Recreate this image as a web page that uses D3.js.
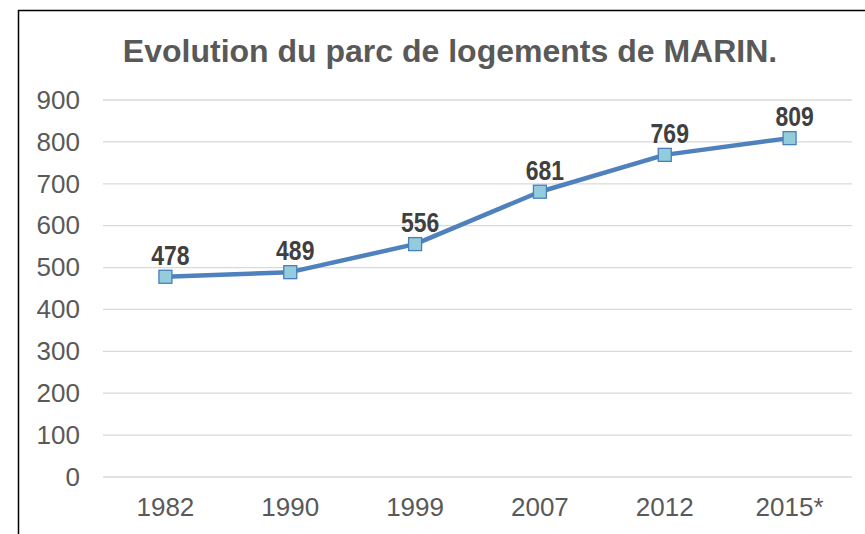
<!DOCTYPE html>
<html>
<head>
<meta charset="utf-8">
<script src="https://cdn.jsdelivr.net/npm/d3@7"></script>
<style>
  body { margin: 0; background: #fff; }
</style>
</head>
<body>
<svg id="SVG_CONTAINER" width="865" height="534"></svg>
<script>
const years = ["1982", "1990", "1999", "2007", "2012", "2015*"];
const logements = [478, 489, 556, 681, 769, 809];
const yTicks = [0, 100, 200, 300, 400, 500, 600, 700, 800, 900];

const width = 865, height = 534;
const MARGIN = { LEFT: 103, RIGHT: 13, TOP: 100, BOTTOM: 57 };
const FONT = "Arial, 'Liberation Sans', sans-serif";

var svg = d3.select("#SVG_CONTAINER");

// outer frame
svg.append("rect")
    .attr("x", 18.5).attr("y", 10.5)
    .attr("width", 900).attr("height", 600)
    .attr("fill", "none").attr("stroke", "#000").attr("stroke-width", 1.5);

// title
svg.append("text")
    .attr("x", 450).attr("y", 62)
    .attr("text-anchor", "middle")
    .attr("font-family", FONT)
    .attr("font-weight", "bold")
    .attr("font-size", "32px")
    .attr("fill", "#595959")
    .text("Evolution du parc de logements de MARIN.");

var xScale = d3.scaleBand()
    .domain(years)
    .range([MARGIN.LEFT, width - MARGIN.RIGHT]);

var yScale = d3.scaleLinear()
    .domain([0, 900])
    .range([height - MARGIN.BOTTOM, MARGIN.TOP]);

// gridlines
svg.append("g")
    .selectAll("line")
    .data(yTicks)
    .enter()
    .append("line")
    .attr("x1", MARGIN.LEFT).attr("x2", width - MARGIN.RIGHT)
    .attr("y1", d => yScale(d)).attr("y2", d => yScale(d))
    .attr("stroke", "#d9d9d9").attr("stroke-width", 1.3);

// y axis
var yAxis = d3.axisLeft(yScale).tickValues(yTicks).tickSize(0).tickPadding(23);
var gy = svg.append("g")
    .attr("transform", "translate(" + MARGIN.LEFT + ",0)")
    .call(yAxis);
gy.select(".domain").remove();
gy.selectAll("text")
    .attr("font-family", FONT)
    .attr("font-size", "26px")
    .attr("fill", "#595959");

// x axis
var xAxis = d3.axisBottom(xScale).tickSize(0).tickPadding(21);
var gx = svg.append("g")
    .attr("transform", "translate(0," + (height - MARGIN.BOTTOM) + ")")
    .call(xAxis);
gx.select(".domain").remove();
gx.selectAll("text")
    .attr("font-family", FONT)
    .attr("font-size", "26px")
    .attr("fill", "#595959");

var cx = (d, i) => xScale(years[i]) + xScale.bandwidth() / 2;

// line
var line = d3.line()
    .x((d, i) => cx(d, i))
    .y(d => yScale(d));

svg.append("path")
    .datum(logements)
    .attr("d", line)
    .attr("fill", "none")
    .attr("stroke", "#4f81bd")
    .attr("stroke-width", 4.5)
    .attr("stroke-linejoin", "round");

// markers
svg.append("g")
    .selectAll("rect")
    .data(logements)
    .enter()
    .append("rect")
    .attr("x", (d, i) => cx(d, i) - 6.5)
    .attr("y", d => yScale(d) - 6.5)
    .attr("width", 13).attr("height", 13)
    .attr("fill", "#93cddd")
    .attr("stroke", "#4a7ebb")
    .attr("stroke-width", 1.3);

// value labels (narrow bold, squeezed horizontally)
svg.append("g")
    .selectAll("text")
    .data(logements)
    .enter()
    .append("text")
    .attr("transform", (d, i) => "translate(" + (cx(d, i) + 5) + "," + (yScale(d) - 12) + ") scale(0.82,1)")
    .attr("text-anchor", "middle")
    .attr("font-family", FONT)
    .attr("font-weight", "bold")
    .attr("font-size", "28px")
    .attr("fill", "#404040")
    .text(d => d);
</script>
</body>
</html>
